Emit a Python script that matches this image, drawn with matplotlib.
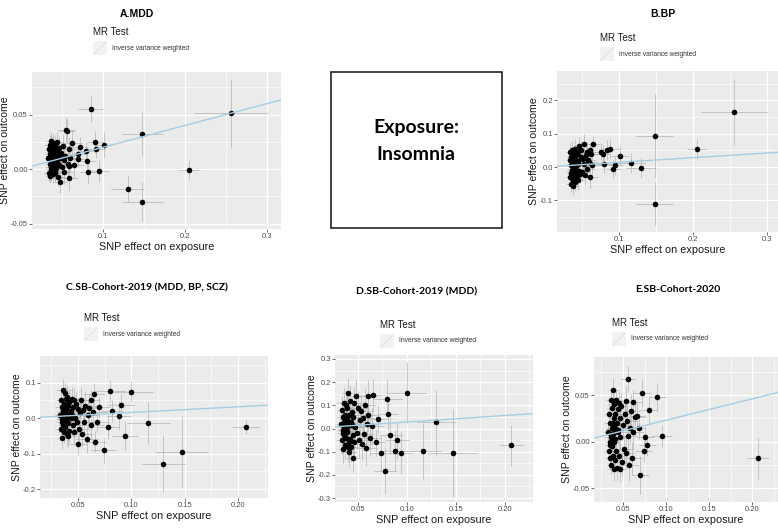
import matplotlib
matplotlib.use("Agg")
import matplotlib.pyplot as plt
from matplotlib.patches import Rectangle
from matplotlib.lines import Line2D
from matplotlib.ticker import MultipleLocator

# ---- data -------------------------------------------------------------
titles = ["A.MDD", "B.BP", "C.SB-Cohort-2019 (MDD, BP, SCZ)",
          "D.SB-Cohort-2019 (MDD)", "E.SB-Cohort-2020"]
ivw_slope = [0.20, 0.14, 0.16, 0.28, 0.23]

# instrument SNPs in the dense cluster (same exposure in every panel)
cluster_x = [0.033, 0.034, 0.034, 0.035, 0.035, 0.035, 0.036, 0.036, 0.036, 0.037,
             0.037, 0.037, 0.038, 0.038, 0.038, 0.039, 0.039, 0.039, 0.040, 0.040,
             0.040, 0.041, 0.041, 0.041, 0.042, 0.042, 0.043, 0.043, 0.044, 0.044,
             0.045, 0.045, 0.046, 0.046, 0.047, 0.048, 0.049, 0.050, 0.051, 0.052,
             0.053, 0.054, 0.055, 0.056, 0.057, 0.058, 0.059, 0.060, 0.062, 0.064,
             0.036, 0.039, 0.042, 0.035, 0.038, 0.044]
cluster_sx = [0.005, 0.006, 0.005, 0.006, 0.007, 0.005, 0.006, 0.007, 0.005, 0.006,
              0.007, 0.006, 0.005, 0.007, 0.006, 0.006, 0.008, 0.006, 0.007, 0.006,
              0.008, 0.006, 0.007, 0.008, 0.007, 0.006, 0.008, 0.007, 0.008, 0.007,
              0.008, 0.009, 0.008, 0.007, 0.009, 0.008, 0.009, 0.009, 0.010, 0.009,
              0.010, 0.010, 0.011, 0.010, 0.011, 0.011, 0.011, 0.012, 0.012, 0.013,
              0.007, 0.006, 0.008, 0.006, 0.007, 0.008]

cluster_y_a = [0.010, -0.004, 0.018, 0.005, 0.022, -0.006, 0.012, 0.000, 0.026, 0.008,
               0.016, -0.003, 0.004, 0.020, 0.011, -0.005, 0.014, 0.024, 0.007, -0.001,
               0.018, 0.003, 0.012, 0.022, -0.004, 0.009, 0.016, 0.001, 0.025, 0.006,
               0.013, -0.007, 0.019, 0.004, 0.010, -0.012, 0.015, 0.002, 0.021, 0.008,
               -0.003, 0.012, 0.036, 0.035, 0.005, 0.018, -0.008, 0.010, 0.024, 0.004,
               0.002, 0.020, -0.002, 0.014, 0.006, 0.017]
cluster_sy_a = [0.008, 0.007, 0.009, 0.008, 0.009, 0.007, 0.008, 0.009, 0.008, 0.007,
                0.009, 0.008, 0.007, 0.009, 0.008, 0.008, 0.009, 0.008, 0.009, 0.008,
                0.009, 0.008, 0.009, 0.009, 0.008, 0.009, 0.009, 0.008, 0.009, 0.009,
                0.010, 0.009, 0.010, 0.009, 0.010, 0.010, 0.010, 0.010, 0.011, 0.010,
                0.011, 0.011, 0.011, 0.011, 0.012, 0.011, 0.012, 0.012, 0.012, 0.013,
                0.008, 0.009, 0.009, 0.008, 0.008, 0.009]

cluster_y_b = [0.020, -0.030, 0.045, 0.005, -0.050, 0.030, -0.015, 0.010, 0.050, -0.040,
               0.025, -0.005, 0.035, -0.058, 0.015, -0.025, 0.040, 0.000, -0.035, 0.055,
               0.012, -0.045, 0.028, -0.010, 0.003, -0.020, 0.038, -0.030, 0.018, 0.008,
               -0.040, 0.045, 0.062, -0.012, -0.020, 0.030, 0.050, -0.015, 0.025, 0.068,
               0.010, -0.025, 0.035, 0.045, -0.005, 0.022, 0.015, -0.030, 0.040, 0.005,
               -0.008, 0.022, 0.002, -0.018, 0.032, 0.012]
cluster_sy_b = [0.024, 0.025, 0.026, 0.024, 0.025, 0.026, 0.024, 0.025, 0.027, 0.025,
                0.026, 0.024, 0.027, 0.026, 0.025, 0.026, 0.027, 0.025, 0.026, 0.028,
                0.025, 0.027, 0.026, 0.025, 0.028, 0.026, 0.027, 0.026, 0.028, 0.027,
                0.028, 0.027, 0.029, 0.028, 0.027, 0.028, 0.029, 0.028, 0.030, 0.030,
                0.030, 0.029, 0.031, 0.030, 0.031, 0.031, 0.032, 0.032, 0.033, 0.034,
                0.025, 0.026, 0.027, 0.025, 0.026, 0.027]

cluster_y_c = [0.010, -0.030, 0.050, -0.010, 0.030, -0.057, 0.020, 0.078, -0.020, 0.040,
               0.000, -0.040, 0.070, 0.015, -0.025, 0.055, -0.005, 0.025, -0.045, 0.060,
               0.005, -0.015, 0.035, -0.050, 0.045, -0.035, 0.020, 0.000, 0.010, 0.055,
               -0.020, 0.030, 0.050, -0.040, 0.000, 0.040, -0.010, 0.025, -0.030, 0.015,
               0.052, -0.045, 0.022, -0.012, 0.035, -0.060, 0.008, 0.028, -0.020, 0.018,
               0.004, -0.008, 0.012, -0.003, 0.018, 0.002]
cluster_sy_c = [0.029, 0.030, 0.031, 0.030, 0.030, 0.031, 0.030, 0.032, 0.030, 0.031,
                0.030, 0.031, 0.032, 0.030, 0.031, 0.032, 0.030, 0.031, 0.032, 0.032,
                0.031, 0.031, 0.032, 0.032, 0.033, 0.032, 0.032, 0.033, 0.033, 0.033,
                0.033, 0.033, 0.034, 0.034, 0.034, 0.034, 0.035, 0.035, 0.036, 0.036,
                0.036, 0.037, 0.037, 0.038, 0.038, 0.039, 0.039, 0.040, 0.040, 0.041,
                0.030, 0.031, 0.032, 0.030, 0.031, 0.033]

cluster_y_d = [0.020, -0.050, 0.080, -0.020, 0.050, -0.090, 0.030, 0.110, -0.030, 0.060,
               0.000, -0.070, 0.100, 0.025, -0.040, 0.090, -0.010, 0.040, -0.080, 0.155,
               0.010, -0.060, 0.060, -0.100, 0.120, -0.045, 0.030, -0.080, 0.015, 0.070,
               -0.030, 0.050, 0.110, -0.060, 0.005, 0.140, -0.020, 0.090, -0.050, 0.035,
               0.075, -0.065, 0.045, -0.025, 0.100, -0.085, 0.020, 0.060, -0.040, 0.010,
               0.005, -0.015, 0.025, -0.005, 0.040, 0.015]
cluster_sy_d = [0.058, 0.060, 0.062, 0.060, 0.061, 0.063, 0.060, 0.064, 0.059, 0.062,
                0.060, 0.062, 0.064, 0.061, 0.062, 0.063, 0.061, 0.062, 0.064, 0.064,
                0.062, 0.063, 0.064, 0.065, 0.066, 0.064, 0.065, 0.066, 0.066, 0.066,
                0.067, 0.067, 0.068, 0.068, 0.068, 0.069, 0.070, 0.070, 0.071, 0.072,
                0.072, 0.073, 0.074, 0.074, 0.075, 0.076, 0.076, 0.077, 0.078, 0.080,
                0.061, 0.062, 0.064, 0.060, 0.062, 0.065]

cluster_y_e = [0.010, -0.010, 0.030, 0.000, 0.020, -0.018, 0.045, 0.005, -0.025, 0.036,
               0.015, -0.005, 0.056, 0.008, -0.015, 0.025, 0.000, 0.040, -0.030, 0.018,
               0.012, -0.020, 0.030, 0.003, 0.045, -0.010, 0.020, -0.028, 0.035, 0.010,
               -0.015, 0.042, 0.025, -0.030, 0.005, 0.038, -0.022, 0.018, -0.008, 0.030,
               0.044, -0.012, 0.022, 0.006, -0.025, 0.015, 0.033, -0.018, 0.010, 0.026,
               0.008, 0.002, 0.014, -0.004, 0.020, 0.012]
cluster_sy_e = [0.009, 0.010, 0.011, 0.010, 0.010, 0.011, 0.010, 0.011, 0.010, 0.011,
                0.010, 0.011, 0.012, 0.010, 0.011, 0.011, 0.010, 0.011, 0.012, 0.012,
                0.011, 0.011, 0.012, 0.012, 0.012, 0.012, 0.012, 0.013, 0.013, 0.013,
                0.013, 0.013, 0.014, 0.014, 0.014, 0.014, 0.015, 0.015, 0.015, 0.016,
                0.016, 0.016, 0.017, 0.017, 0.017, 0.018, 0.018, 0.018, 0.019, 0.020,
                0.010, 0.011, 0.012, 0.010, 0.011, 0.012]

# remaining SNPs, read one by one per panel
out_x_a = [0.085, 0.148, 0.256, 0.205, 0.130, 0.148, 0.101, 0.090, 0.092, 0.095,
           0.082, 0.080, 0.079, 0.072, 0.070, 0.069, 0.058]
out_y_a = [0.055, 0.032, 0.051, -0.001, -0.018, -0.030, 0.022, 0.025, 0.018, -0.002,
           -0.003, 0.007, 0.017, 0.020, 0.014, 0.009, 0.003]
out_sx_a = [0.015, 0.025, 0.045, 0.013, 0.020, 0.025, 0.010, 0.010, 0.010, 0.012,
            0.010, 0.012, 0.010, 0.010, 0.009, 0.009, 0.008]
out_sy_a = [0.012, 0.020, 0.032, 0.009, 0.012, 0.018, 0.012, 0.010, 0.008, 0.010,
            0.010, 0.009, 0.008, 0.009, 0.008, 0.007, 0.007]

out_x_b = [0.148, 0.148, 0.256, 0.205, 0.116, 0.130, 0.101, 0.095, 0.092, 0.088,
           0.083, 0.080, 0.078, 0.075, 0.065, 0.060]
out_y_b = [0.093, -0.110, 0.165, 0.055, 0.012, -0.004, 0.033, 0.005, -0.006, 0.055,
           0.052, 0.010, 0.040, 0.046, 0.068, 0.050]
out_sx_b = [0.025, 0.025, 0.045, 0.013, 0.020, 0.020, 0.012, 0.010, 0.010, 0.012,
            0.010, 0.010, 0.010, 0.010, 0.009, 0.009]
out_sy_b = [0.125, 0.065, 0.100, 0.030, 0.030, 0.030, 0.030, 0.028, 0.028, 0.030,
            0.030, 0.028, 0.025, 0.025, 0.025, 0.022]

out_x_c = [0.207, 0.147, 0.130, 0.116, 0.100, 0.094, 0.090, 0.088, 0.080, 0.082,
           0.078, 0.074, 0.066, 0.065, 0.050, 0.070, 0.068, 0.062]
out_y_c = [-0.025, -0.095, -0.128, -0.014, 0.075, -0.051, 0.038, 0.007, 0.077, 0.020,
           -0.025, -0.090, -0.066, 0.068, -0.074, 0.030, -0.010, 0.050]
out_sx_c = [0.013, 0.025, 0.020, 0.020, 0.020, 0.012, 0.012, 0.012, 0.015, 0.010,
            0.010, 0.012, 0.010, 0.010, 0.008, 0.010, 0.010, 0.009]
out_sy_c = [0.020, 0.100, 0.080, 0.060, 0.030, 0.040, 0.030, 0.040, 0.030, 0.030,
            0.035, 0.035, 0.030, 0.030, 0.030, 0.030, 0.030, 0.030]

out_x_d = [0.207, 0.147, 0.130, 0.116, 0.100, 0.094, 0.090, 0.088, 0.083, 0.080,
           0.081, 0.078, 0.074, 0.065, 0.060, 0.045, 0.070, 0.068]
out_y_d = [-0.073, -0.107, 0.027, -0.097, 0.155, -0.107, -0.050, -0.097, -0.030, 0.128,
           0.062, -0.183, -0.107, 0.143, 0.140, -0.128, 0.040, -0.060]
out_sx_d = [0.013, 0.025, 0.020, 0.020, 0.020, 0.012, 0.012, 0.012, 0.012, 0.015,
            0.010, 0.012, 0.012, 0.010, 0.009, 0.007, 0.010, 0.010]
out_sy_d = [0.090, 0.190, 0.140, 0.120, 0.130, 0.090, 0.080, 0.090, 0.080, 0.080,
            0.070, 0.100, 0.080, 0.070, 0.070, 0.060, 0.060, 0.060]

out_x_e = [0.207, 0.095, 0.090, 0.080, 0.078, 0.076, 0.072, 0.070, 0.056, 0.066,
           0.062, 0.074, 0.068]
out_y_e = [-0.018, 0.006, 0.048, 0.034, -0.004, 0.005, 0.052, -0.036, 0.067, 0.028,
           0.043, -0.010, 0.015]
out_sx_e = [0.013, 0.012, 0.010, 0.010, 0.010, 0.010, 0.010, 0.010, 0.008, 0.009,
            0.009, 0.010, 0.009]
out_sy_e = [0.022, 0.012, 0.015, 0.015, 0.012, 0.012, 0.015, 0.020, 0.014, 0.013,
            0.013, 0.012, 0.012]

# ---- layout -----------------------------------------------------------
W, H = 778, 532
BG = "#EBEBEB"
GREY_TXT = "#4D4D4D"
IVW_COL = "#A6CEE3"


def px_box(x0, y0, x1, y1):
    return [x0 / W, 1 - y1 / H, (x1 - x0) / W, (y1 - y0) / H]


def draw_panel(ax, xs, ys, sxs, sys_, slope, xlim, ylim, xmaj, ymaj, xfmt, yfmt):
    ax.set_facecolor(BG)
    for s in ax.spines.values():
        s.set_visible(False)
    ax.set_xlim(*xlim)
    ax.set_ylim(*ylim)
    ax.xaxis.set_major_locator(MultipleLocator(xmaj))
    ax.xaxis.set_minor_locator(MultipleLocator(xmaj / 2))
    ax.yaxis.set_major_locator(MultipleLocator(ymaj))
    ax.yaxis.set_minor_locator(MultipleLocator(ymaj / 2))
    ax.grid(which="major", color="white", lw=0.9)
    ax.grid(which="minor", color="white", lw=0.45)
    ax.set_axisbelow(True)
    ax.tick_params(which="major", length=2, width=0.5, color="#333333",
                   labelsize=5.5, labelcolor=GREY_TXT, pad=1)
    ax.tick_params(which="minor", length=0)
    ax.xaxis.set_major_formatter(plt.FuncFormatter(lambda v, p: xfmt.format(v)))
    ax.yaxis.set_major_formatter(plt.FuncFormatter(lambda v, p: yfmt.format(v)))
    ax.errorbar(xs, ys, xerr=sxs, yerr=sys_, fmt="none", ecolor="#B4B4B4",
                elinewidth=0.5, zorder=2)
    ax.plot(xs, ys, "o", color="black", ms=4.0, mew=0, zorder=3)
    ax.axline((0, 0), slope=slope, color=IVW_COL, lw=1.0, zorder=4)
    ax.set_xlabel("SNP effect on exposure", fontsize=7.8, color="#1A1A1A",
                  family="Liberation Sans", labelpad=1)
    ax.set_ylabel("SNP effect on outcome", fontsize=7.6, color="#1A1A1A",
                  family="Liberation Sans", labelpad=0.5)
    for lab in ax.get_xticklabels() + ax.get_yticklabels():
        lab.set_family("Liberation Sans")


def legend(fig, x, y):
    # x, y: left / vertical centre of "MR Test" in pixels
    fig.text(x / W, 1 - y / H, "MR Test", fontsize=7, family="Liberation Sans",
             color="#1A1A1A", va="center", ha="left")
    kx, ky = x, y + 9
    fig.patches.append(Rectangle((kx / W, 1 - (ky + 14) / H), 14 / W, 14 / H,
                                 transform=fig.transFigure, facecolor="#F2F2F2",
                                 edgecolor="none"))
    fig.lines.append(Line2D([(kx + 1) / W, (kx + 13) / W],
                            [1 - (ky + 13) / H, 1 - (ky + 1) / H],
                            transform=fig.transFigure, color="#D5E6EF", lw=0.8))
    fig.text((kx + 19) / W, 1 - (ky + 7) / H, "Inverse variance weighted",
             fontsize=4.8, family="Liberation Sans", color="#333333",
             va="center", ha="left")


fig = plt.figure(figsize=(W / 100, H / 100), dpi=100)

panels = [
    (cluster_y_a, cluster_sy_a, out_x_a, out_y_a, out_sx_a, out_sy_a,
     px_box(32, 72, 281, 229), (0.0134, 0.317), (-0.055, 0.089), 0.1, 0.05,
     "{:.1f}", "{:.2f}"),
    (cluster_y_b, cluster_sy_b, out_x_b, out_y_b, out_sx_b, out_sy_b,
     px_box(557, 71, 778, 232), (0.016, 0.315), (-0.195, 0.288), 0.1, 0.1,
     "{:.1f}", "{:.1f}"),
    (cluster_y_c, cluster_sy_c, out_x_c, out_y_c, out_sx_c, out_sy_c,
     px_box(40, 356, 268, 498), (0.0144, 0.228), (-0.225, 0.175), 0.05, 0.1,
     "{:.2f}", "{:.1f}"),
    (cluster_y_d, cluster_sy_d, out_x_d, out_y_d, out_sx_d, out_sy_d,
     px_box(335, 355, 533, 502), (0.0265, 0.229), (-0.317, 0.317), 0.05, 0.1,
     "{:.2f}", "{:.1f}"),
    (cluster_y_e, cluster_sy_e, out_x_e, out_y_e, out_sx_e, out_sy_e,
     px_box(594, 357, 778, 502), (0.0163, 0.230), (-0.065, 0.091), 0.05, 0.05,
     "{:.2f}", "{:.2f}"),
]

for i, (cy, csy, ox, oy, osx, osy, box, xl, yl, xm, ym, xf, yf) in enumerate(panels):
    ax = fig.add_axes(box)
    xs = cluster_x + ox
    ys = cy + oy
    sxs = cluster_sx + osx
    sys_ = csy + osy
    draw_panel(ax, xs, ys, sxs, sys_, ivw_slope[i], xl, yl, xm, ym, xf, yf)

# titles
fig.text(137 / W, 1 - 14 / H, titles[0], fontsize=7.5, weight="bold",
         family="Liberation Sans", ha="center", va="center")
fig.text(663 / W, 1 - 14 / H, titles[1], fontsize=7.5, weight="bold",
         family="Liberation Sans", ha="center", va="center")
fig.text(147 / W, 1 - 288 / H, titles[2], fontsize=7.5, weight="bold",
         family="Lato", ha="center", va="center")
fig.text(417 / W, 1 - 292 / H, titles[3], fontsize=7.5, weight="bold",
         family="Lato", ha="center", va="center")
fig.text(678 / W, 1 - 290 / H, titles[4], fontsize=7.5, weight="bold",
         family="Lato", ha="center", va="center")

# legends
legend(fig, 93, 32)
legend(fig, 600, 38)
legend(fig, 84, 318)
legend(fig, 380, 325)
legend(fig, 612, 323)

# exposure box
fig.patches.append(Rectangle((331 / W, 1 - 228 / H), 171 / W, 156 / H,
                             transform=fig.transFigure, facecolor="white",
                             edgecolor="#222222", lw=1.2))
fig.text(416 / W, 1 - 127 / H, "Exposure:", fontsize=14, weight="bold",
         family="Lato", ha="center", va="center")
fig.text(416 / W, 1 - 155 / H, "Insomnia", fontsize=14, weight="bold",
         family="Lato", ha="center", va="center")

fig.savefig("out.png", dpi=100)
